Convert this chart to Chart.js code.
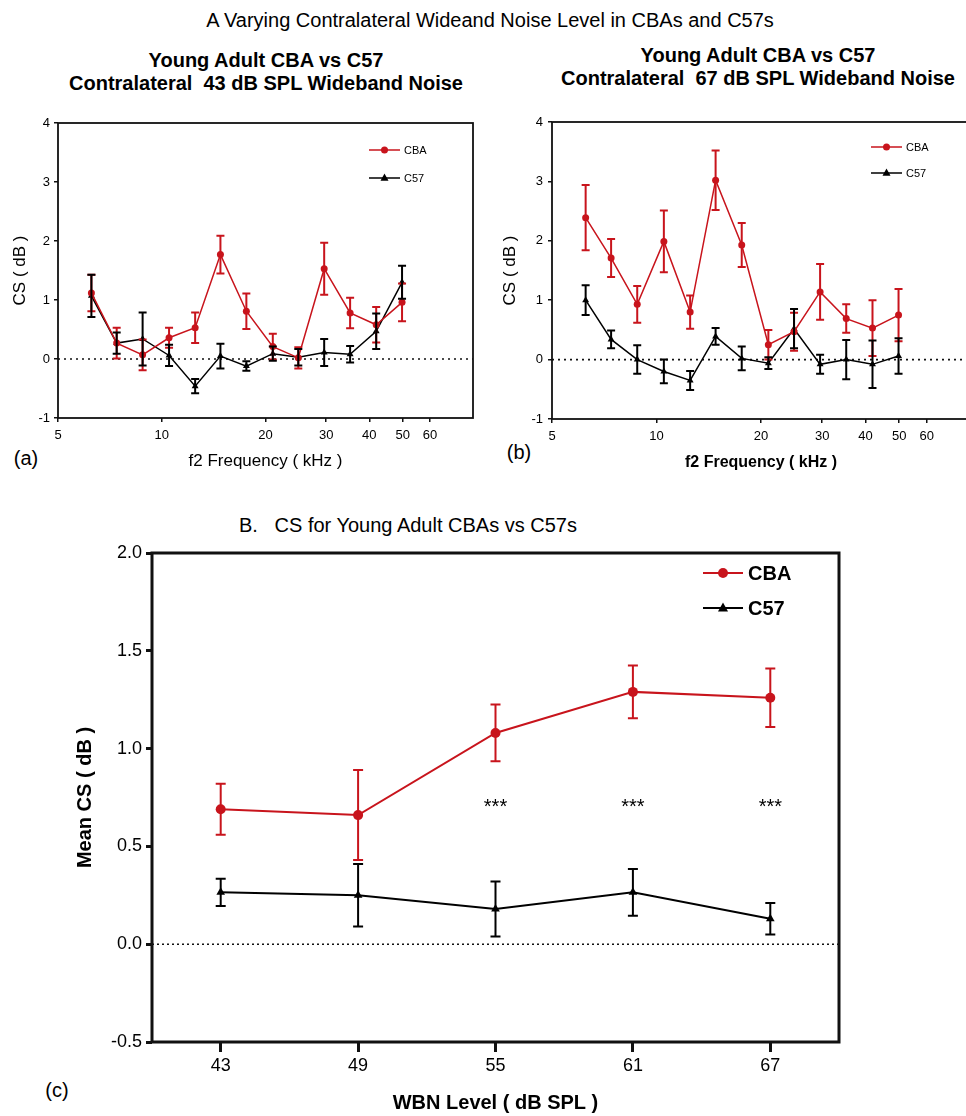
<!DOCTYPE html>
<html>
<head>
<meta charset="utf-8">
<script src="https://cdn.jsdelivr.net/npm/chart.js@4.4.1/dist/chart.umd.min.js"></script>
<style>
  html, body { margin: 0; padding: 0; background: #fff; overflow: hidden; }
  body { position: relative; width: 966px; height: 1116px; font-family: "Liberation Sans", Arial, sans-serif; color: #000; }
  .t { position: absolute; white-space: pre; line-height: 1; transform: translateX(-50%); }
  .b { font-weight: bold; }
  canvas { position: absolute; }
</style>
</head>
<body>
<div class="t" style="left:490px;top:10px;font-size:20px;">A Varying Contralateral Wideand Noise Level in CBAs and C57s</div>

<div class="t b" style="left:266px;top:50px;font-size:20px;">Young Adult CBA vs C57</div>
<div class="t b" style="left:266px;top:73px;font-size:20px;">Contralateral  43 dB SPL Wideband Noise</div>
<div class="t b" style="left:758px;top:45px;font-size:20px;">Young Adult CBA vs C57</div>
<div class="t b" style="left:758px;top:68px;font-size:20px;">Contralateral  67 dB SPL Wideband Noise</div>

<div class="t" style="left:26px;top:448px;font-size:20px;">(a)</div>
<div class="t" style="left:519px;top:442px;font-size:20px;">(b)</div>

<div class="t" style="left:408px;top:515px;font-size:20px;">B.   CS for Young Adult CBAs vs C57s</div>
<div class="t" style="left:57px;top:1080px;font-size:20px;">(c)</div>

<canvas id="chartA" width="480" height="380" style="left:0px;top:100px;"></canvas>
<canvas id="chartB" width="500" height="380" style="left:480px;top:100px;"></canvas>
<canvas id="chartC" width="820" height="616" style="left:40px;top:500px;"></canvas>

<script>
"use strict";
// f2 frequencies (kHz), shared by panels a and b
const freqs = [6.25, 7.4, 8.8, 10.5, 12.5, 14.8, 17.6, 21.0, 24.9, 29.6, 35.2, 41.9, 49.8];
const freqTicks = [5, 10, 20, 30, 40, 50, 60];

// panel a : contralateral 43 dB SPL
const cba43 = [1.12, 0.27, 0.07, 0.36, 0.53, 1.77, 0.81, 0.21, 0.02, 1.53, 0.78, 0.58, 0.96];
const cba43Err = [0.31, 0.26, 0.26, 0.17, 0.26, 0.32, 0.30, 0.22, 0.18, 0.44, 0.26, 0.30, 0.32];
const c5743 = [1.07, 0.27, 0.34, 0.06, -0.46, 0.05, -0.12, 0.09, 0.03, 0.11, 0.08, 0.47, 1.30];
const c5743Err = [0.36, 0.18, 0.45, 0.18, 0.12, 0.21, 0.08, 0.12, 0.14, 0.23, 0.14, 0.30, 0.28];

// panel b : contralateral 67 dB SPL
const cba67 = [2.39, 1.71, 0.93, 1.99, 0.80, 3.02, 1.93, 0.25, 0.47, 1.14, 0.69, 0.53, 0.75];
const cba67Err = [0.55, 0.32, 0.31, 0.52, 0.28, 0.50, 0.37, 0.25, 0.32, 0.47, 0.24, 0.47, 0.44];
const c5767 = [1.00, 0.34, 0.00, -0.20, -0.35, 0.39, 0.02, -0.06, 0.52, -0.08, 0.00, -0.08, 0.06];
const c5767Err = [0.25, 0.15, 0.24, 0.20, 0.16, 0.14, 0.20, 0.10, 0.33, 0.16, 0.33, 0.40, 0.30];

// panel c : mean CS by WBN level
const levels = [43, 49, 55, 61, 67];
const cbaMean = [0.69, 0.66, 1.08, 1.29, 1.26];
const cbaMeanErr = [0.13, 0.23, 0.145, 0.135, 0.15];
const c57Mean = [0.265, 0.25, 0.18, 0.265, 0.13];
const c57MeanErr = [0.07, 0.16, 0.14, 0.12, 0.08];
const starLevels = [55, 61, 67];
const starValue = 0.73;

const RED = "#c8141c";
const BLACK = "#000";
const FONT = "'Liberation Sans', Arial, sans-serif";

function pts(xs, ys) {
  return xs.map((x, i) => ({ x: x, y: ys[i] }));
}

function drawMarker(ctx, style, x, y, r, color) {
  ctx.fillStyle = color;
  ctx.beginPath();
  if (style === "triangle") {
    ctx.moveTo(x, y - r * 1.1);
    ctx.lineTo(x + r, y + r * 0.7);
    ctx.lineTo(x - r, y + r * 0.7);
    ctx.closePath();
  } else {
    ctx.arc(x, y, r, 0, Math.PI * 2);
  }
  ctx.fill();
}

// error bars, dotted zero line, frame, legend, stars
const figPlugin = {
  id: "fig",
  beforeDatasetsDraw(chart, args, o) {
    const ctx = chart.ctx, a = chart.chartArea, ys = chart.scales.y;
    const y0 = ys.getPixelForValue(0);
    ctx.save();
    ctx.strokeStyle = "#111";
    ctx.lineWidth = o.zeroWidth;
    ctx.setLineDash(o.zeroDash);
    ctx.beginPath();
    ctx.moveTo(a.left + o.zeroStart, y0);
    ctx.lineTo(a.right, y0);
    ctx.stroke();
    ctx.restore();
  },
  afterDatasetsDraw(chart, args, o) {
    const ctx = chart.ctx, a = chart.chartArea, ys = chart.scales.y, xs = chart.scales.x;
    ctx.save();
    chart.data.datasets.forEach((ds, i) => {
      const meta = chart.getDatasetMeta(i);
      ctx.strokeStyle = ds.borderColor;
      ctx.lineWidth = o.errWidth;
      meta.data.forEach((p, j) => {
        const v = ds.data[j].y, e = ds.errors[j];
        const t = ys.getPixelForValue(v + e), b = ys.getPixelForValue(v - e);
        ctx.beginPath();
        ctx.moveTo(p.x, t); ctx.lineTo(p.x, b);
        ctx.moveTo(p.x - o.cap, t); ctx.lineTo(p.x + o.cap, t);
        ctx.moveTo(p.x - o.cap, b); ctx.lineTo(p.x + o.cap, b);
        ctx.stroke();
      });
    });
    // frame
    ctx.strokeStyle = "#111";
    ctx.lineWidth = o.frameWidth;
    ctx.strokeRect(a.left, a.top, a.right - a.left, a.bottom - a.top);
    // legend
    const L = o.legend;
    chart.data.datasets.forEach((ds, i) => {
      const y = a.top + L.dy[i];
      ctx.strokeStyle = ds.borderColor;
      ctx.lineWidth = ds.borderWidth;
      ctx.beginPath();
      ctx.moveTo(a.right - L.x0, y);
      ctx.lineTo(a.right - L.x0 + L.len, y);
      ctx.stroke();
      drawMarker(ctx, ds.pointStyle, a.right - L.x0 + L.len / 2, y, ds.pointRadius, ds.borderColor);
      ctx.fillStyle = "#000";
      ctx.font = L.font;
      ctx.textBaseline = "middle";
      ctx.textAlign = "left";
      ctx.fillText(ds.label, a.right - L.x0 + L.len + L.gap, y + 1);
    });
    // significance marks
    if (o.stars) {
      ctx.fillStyle = "#000";
      ctx.font = o.stars.font;
      ctx.textAlign = "center";
      ctx.textBaseline = "alphabetic";
      o.stars.at.forEach(lv => {
        ctx.fillText("***", xs.getPixelForValue(lv), ys.getPixelForValue(o.stars.value) + o.stars.shift);
      });
    }
    ctx.restore();
  }
};

function series(label, xs, ys, errs, color, style, r, lw) {
  return {
    label: label,
    data: pts(xs, ys),
    errors: errs,
    showLine: true,
    borderColor: color,
    backgroundColor: color,
    borderWidth: lw,
    pointStyle: style,
    pointRadius: r,
    pointBorderWidth: 0,
    pointHoverRadius: r,
  };
}

function panelOptions(cfg) {
  return {
    responsive: false,
    animation: false,
    events: [],
    layout: { padding: cfg.padding },
    plugins: {
      legend: { display: false },
      tooltip: { enabled: false },
      fig: cfg.fig
    },
    scales: {
      x: {
        type: cfg.xType,
        min: cfg.xMin,
        max: cfg.xMax,
        afterBuildTicks: s => { s.ticks = cfg.xTicks.map(v => ({ value: v })); },
        afterFit: s => { s.height = cfg.xHeight; },
        border: { display: false },
        grid: { drawOnChartArea: false, drawTicks: true, tickLength: cfg.xTickLen, color: "#111", lineWidth: cfg.tickWidth },
        ticks: { color: "#000", font: cfg.tickFont, padding: cfg.xTickPad, autoSkip: false, maxRotation: 0, callback: v => String(v) },
        title: { display: true, text: cfg.xTitle, color: "#000", font: cfg.xTitleFont, padding: { top: 0, bottom: cfg.xTitlePad } }
      },
      y: {
        type: "linear",
        min: cfg.yMin,
        max: cfg.yMax,
        afterFit: s => { s.width = cfg.yWidth; },
        border: { display: false },
        grid: { drawOnChartArea: false, drawTicks: true, tickLength: cfg.yTickLen, color: "#111", lineWidth: cfg.tickWidth },
        ticks: { color: "#000", font: cfg.tickFont, padding: cfg.yTickPad, stepSize: cfg.yStep, callback: cfg.yFmt },
        title: { display: true, text: cfg.yTitle, color: "#000", font: cfg.yTitleFont, padding: { top: cfg.yTitlePad, bottom: 0 } }
      }
    }
  };
}

const smallFig = (legend) => ({
  zeroWidth: 1.6, zeroDash: [2, 4], zeroStart: 0,
  errWidth: 2, cap: 4, frameWidth: 1.8,
  legend: legend
});

new Chart(document.getElementById("chartA"), {
  type: "scatter",
  data: {
    datasets: [
      series("CBA", freqs, cba43, cba43Err, RED, "circle", 3.5, 1.5),
      series("C57", freqs, c5743, c5743Err, BLACK, "triangle", 4, 1.5)
    ]
  },
  options: panelOptions({
    padding: { left: 0, right: 7, top: 23, bottom: 0 },
    xType: "logarithmic", xMin: 5, xMax: 80, xTicks: freqTicks,
    xHeight: 62, xTickLen: 4, xTickPad: 6, tickWidth: 1.5,
    tickFont: { family: FONT, size: 13 },
    xTitle: "f2 Frequency ( kHz )", xTitleFont: { family: FONT, size: 17 }, xTitlePad: 8,
    yMin: -1, yMax: 4, yStep: 1, yFmt: v => String(v),
    yWidth: 58, yTickLen: 4, yTickPad: 4,
    yTitle: "CS ( dB )", yTitleFont: { family: FONT, size: 17 }, yTitlePad: 10,
    fig: smallFig({ x0: 104, len: 31, gap: 4, dy: [27, 55], font: "11px " + FONT })
  }),
  plugins: [figPlugin]
});

new Chart(document.getElementById("chartB"), {
  type: "scatter",
  data: {
    datasets: [
      series("CBA", freqs, cba67, cba67Err, RED, "circle", 3.5, 1.5),
      series("C57", freqs, c5767, c5767Err, BLACK, "triangle", 4, 1.5)
    ]
  },
  options: panelOptions({
    padding: { left: 0, right: 10, top: 22, bottom: 0 },
    xType: "logarithmic", xMin: 5, xMax: 80, xTicks: freqTicks,
    xHeight: 61, xTickLen: 4, xTickPad: 6, tickWidth: 1.5,
    tickFont: { family: FONT, size: 13 },
    xTitle: "f2 Frequency ( kHz )", xTitleFont: { family: FONT, size: 16, weight: "bold" }, xTitlePad: 8,
    yMin: -1, yMax: 4, yStep: 1, yFmt: v => String(v),
    yWidth: 72, yTickLen: 4, yTickPad: 5,
    yTitle: "CS ( dB )", yTitleFont: { family: FONT, size: 17 }, yTitlePad: 20,
    fig: smallFig({ x0: 99, len: 31, gap: 4, dy: [25, 51], font: "11px " + FONT })
  }),
  plugins: [figPlugin]
});

new Chart(document.getElementById("chartC"), {
  type: "scatter",
  data: {
    datasets: [
      series("CBA", levels, cbaMean, cbaMeanErr, RED, "circle", 5, 2),
      series("C57", levels, c57Mean, c57MeanErr, BLACK, "triangle", 5, 2)
    ]
  },
  options: panelOptions({
    padding: { left: 0, right: 21, top: 53, bottom: 0 },
    xType: "linear", xMin: 40, xMax: 70, xTicks: levels,
    xHeight: 74, xTickLen: 10, xTickPad: 3, tickWidth: 3,
    tickFont: { family: FONT, size: 18 },
    xTitle: "WBN Level ( dB SPL )", xTitleFont: { family: FONT, size: 20, weight: "bold" }, xTitlePad: 1,
    yMin: -0.5, yMax: 2.0, yStep: 0.5, yFmt: v => v.toFixed(1),
    yWidth: 112, yTickLen: 6, yTickPad: 4,
    yTitle: "Mean CS ( dB )", yTitleFont: { family: FONT, size: 20, weight: "bold" }, yTitlePad: 33,
    fig: {
      zeroWidth: 1.6, zeroDash: [2, 3], zeroStart: 0,
      errWidth: 2, cap: 5, frameWidth: 3,
      legend: { x0: 136, len: 40, gap: 5, dy: [20, 55], font: "bold 20px " + FONT },
      stars: { at: starLevels, value: starValue, font: "20px " + FONT, shift: 12 }
    }
  }),
  plugins: [figPlugin]
});
</script>
</body>
</html>
